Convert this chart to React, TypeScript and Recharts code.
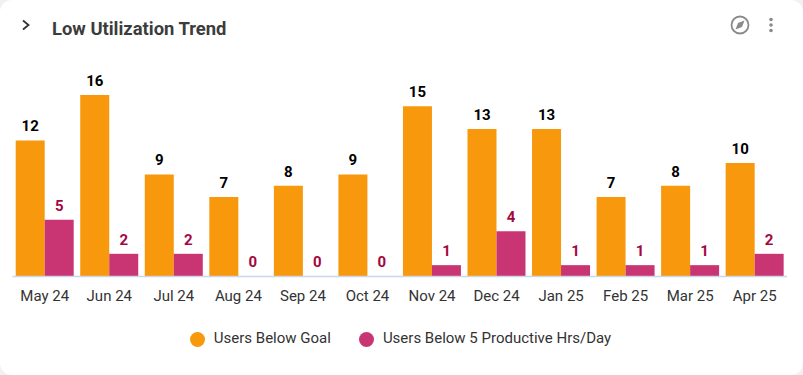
import { Bar, BarChart, LabelList, Legend, XAxis, YAxis } from "recharts";

const months = ["May 24", "Jun 24", "Jul 24", "Aug 24", "Sep 24", "Oct 24", "Nov 24", "Dec 24", "Jan 25", "Feb 25", "Mar 25", "Apr 25"];
const belowGoal = [12, 16, 9, 7, 8, 9, 15, 13, 13, 7, 8, 10];
const belowFiveHours = [5, 2, 2, 0, 0, 0, 1, 4, 1, 1, 1, 2];

const data = months.map((month, i) => ({
  month,
  belowGoal: belowGoal[i],
  belowFiveHours: belowFiveHours[i]
}));

const font = "Roboto, sans-serif";

export default function App() {
  return (
    <div style={{ position: "absolute", left: 0, top: 0, width: 803, height: 375, background: "#f1f1f1", fontFamily: font }}>
      <div style={{ position: "absolute", inset: 0, background: "#fff", borderRadius: 12 }} />
      <svg width={803} height={60} style={{ position: "absolute", left: 0, top: 0 }}>
        <path d="M23 20.5 L28.5 25 L23 29.5" fill="none" stroke="#333" strokeWidth={1.8} />
        <circle cx={740} cy={25} r={8.5} fill="none" stroke="#8a8a8a" strokeWidth={1.8} />
        <path d="M744.5 20.5 L742 27 L735.5 29.5 L738 23 Z" fill="#8a8a8a" />
        <circle cx={771} cy={19.5} r={1.8} fill="#8a8a8a" />
        <circle cx={771} cy={25} r={1.8} fill="#8a8a8a" />
        <circle cx={771} cy={30.5} r={1.8} fill="#8a8a8a" />
      </svg>
      <div style={{ position: "absolute", left: 52, top: 18, fontSize: 18.4, lineHeight: "22px", fontWeight: 700, color: "#3c3c3c" }}>
        Low Utilization Trend
      </div>
      <div style={{ position: "absolute", left: 0, top: 0 }}>
        <BarChart
          width={803}
          height={375}
          data={data}
          barGap={0}
          barCategoryGap={3.2}
          margin={{ top: 95, right: 16, bottom: 68.5, left: 12.5 }}
        >
          <XAxis
            dataKey="month"
            height={30}
            interval={0}
            axisLine={{ stroke: "#ccd6eb", strokeWidth: 1.5 }}
            tickLine={false}
            tickMargin={8}
            tick={{ fill: "#333", fontSize: 15, fontFamily: font }}
          />
          <YAxis hide domain={[0, 16]} />
          <Legend
            iconType="circle"
            iconSize={15}
            verticalAlign="middle"
            align="center"
            itemSorter={null}
            wrapperStyle={{ position: "absolute", left: 184.5, top: 329, width: 460, fontSize: 15, fontFamily: font }}
            formatter={(value) => <span style={{ color: "#333", marginLeft: 5, marginRight: 18 }}>{value}</span>}
          />
          <Bar dataKey="belowGoal" name="Users Below Goal" fill="#f7980d" isAnimationActive={false}>
            <LabelList dataKey="belowGoal" position="top" offset={9} fill="#000" fontSize={15} fontWeight={700} fontFamily={font} />
          </Bar>
          <Bar dataKey="belowFiveHours" name="Users Below 5 Productive Hrs/Day" fill="#c93573" minPointSize={0.01} isAnimationActive={false}>
            <LabelList dataKey="belowFiveHours" position="top" offset={9} fill="#a3073f" fontSize={15} fontWeight={700} fontFamily={font} />
          </Bar>
        </BarChart>
      </div>
    </div>
  );
}
